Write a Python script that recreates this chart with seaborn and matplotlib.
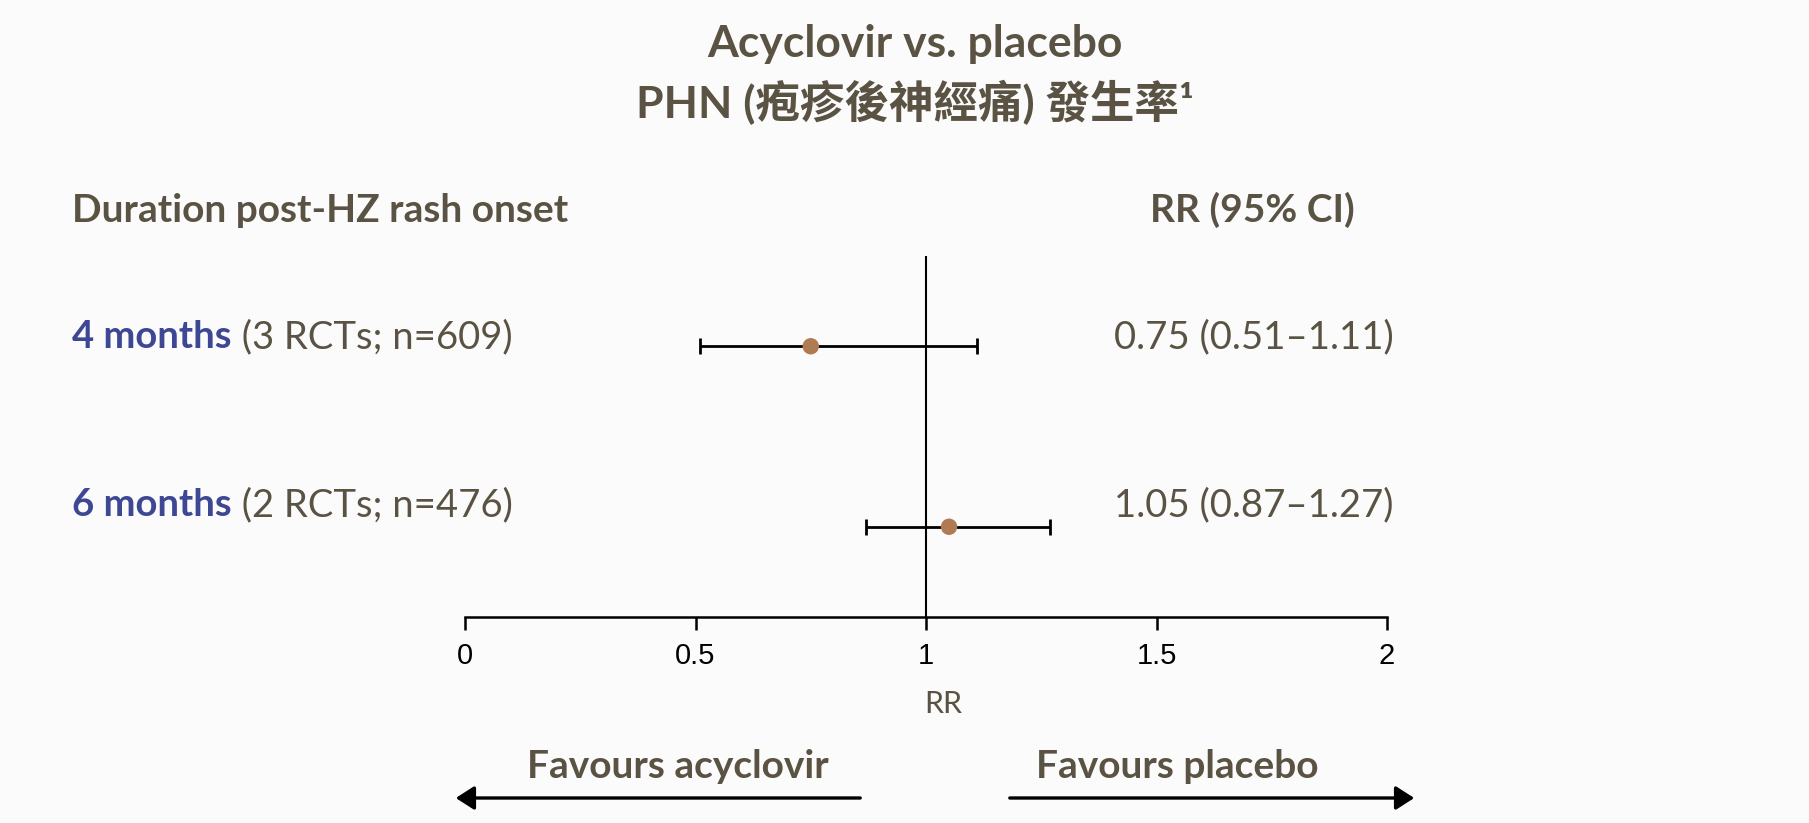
import numpy as np
import pandas as pd
import matplotlib
matplotlib.use("Agg")
import matplotlib.pyplot as plt
import seaborn as sns

# ---- data ----
rows = ["4 months", "6 months"]
details = [" (3 RCTs; n=609)", " (2 RCTs; n=476)"]
rr = [0.75, 1.05]
ci_low = [0.51, 0.87]
ci_high = [1.11, 1.27]
x_ticks = [0, 0.5, 1, 1.5, 2]
x_tick_labels = ["0", "0.5", "1", "1.5", "2"]

df = pd.DataFrame({"row": rows, "rr": rr, "lo": ci_low, "hi": ci_high})

sns.set_theme(style="white")
LATIN = ["Lato", "Noto Sans CJK TC", "DejaVu Sans"]
plt.rcParams["font.family"] = LATIN

TXT = "#5a5344"
BLUE = "#3d4794"
DOT = "#b07a52"

fig = plt.figure(figsize=(18.09, 8.23), dpi=100)
fig.patch.set_facecolor("#fbfbfb")

ax = fig.add_axes([465 / 1809, 1 - 617 / 823, 922 / 1809, 361 / 823])
ax.set_facecolor("none")

# CI whiskers
ax.errorbar(df["rr"], df["row"],
            xerr=[df["rr"] - df["lo"], df["hi"] - df["rr"]],
            fmt="none", ecolor="black", elinewidth=2.0, capsize=6, capthick=2.0, zorder=2)
sns.scatterplot(data=df, x="rr", y="row", color=DOT, s=140, edgecolor="none", ax=ax, zorder=3)
ax.axvline(1, color="black", lw=1.5, zorder=1)

ax.set_xlim(0, 2)
ax.set_ylim(1.5, -0.5)
ax.set_xticks(x_ticks)
ax.set_xticklabels(x_tick_labels, fontsize=21, color="black",
                   family=["Liberation Sans", "DejaVu Sans"])
ax.tick_params(axis="x", direction="out", length=9, width=1.8, color="black", pad=9, bottom=True)
ax.set_yticks([])
ax.set_xlabel("")
ax.set_ylabel("")
for s in ["left", "top", "right"]:
    ax.spines[s].set_visible(False)
ax.spines["bottom"].set_color("black")
ax.spines["bottom"].set_linewidth(1.8)

# titles
fig.text(0.506, 1 - 44 / 823, "Acyclovir vs. placebo", ha="center", va="center",
         fontsize=32, fontweight="bold", color=TXT)
fig.text(0.506, 1 - 102 / 823, "PHN (疱疹後神經痛) 發生率¹", ha="center", va="center",
         fontsize=32, fontweight="bold", color=TXT,
         family=["Lato", "Noto Sans CJK TC", "DejaVu Sans"])

# headers
fig.text(72 / 1809, 1 - 210 / 823, "Duration post-HZ rash onset", ha="left", va="center",
         fontsize=28, fontweight="bold", color=TXT)
fig.text(1252 / 1809, 1 - 210 / 823, "RR (95% CI)", ha="center", va="center",
         fontsize=28, fontweight="bold", color=TXT)

# row labels and RR text
row_text_y = [1 - 337 / 823, 1 - 505 / 823]
for i in range(len(rows)):
    t1 = fig.text(72 / 1809, row_text_y[i], rows[i], ha="left", va="center",
                  fontsize=27.5, fontweight="bold", color=BLUE)
    ax.annotate(details[i], xy=(1, 0.5), xycoords=t1, ha="left", va="center",
                fontsize=27.5, color=TXT, annotation_clip=False)
    fig.text(1394 / 1809, row_text_y[i], f"{rr[i]:.2f} ({ci_low[i]:.2f}\u2013{ci_high[i]:.2f})",
             ha="right", va="center", fontsize=27.5, color=TXT)

# RR axis label
fig.text(943 / 1809, 1 - 704 / 823, "RR", ha="center", va="center", fontsize=22, color=TXT)

# favours labels
fig.text(678 / 1809, 1 - 767 / 823, "Favours acyclovir", ha="center", va="center",
         fontsize=28, fontweight="bold", color=TXT)
fig.text(1177 / 1809, 1 - 767 / 823, "Favours placebo", ha="center", va="center",
         fontsize=28, fontweight="bold", color=TXT)

ay = 1 - 798 / 823
fig.add_artist(matplotlib.patches.FancyArrowPatch((863 / 1809, ay), (453 / 1809, ay),
               transform=fig.transFigure, arrowstyle="-|>,head_length=7,head_width=4.5",
               mutation_scale=1.6, lw=2.4, color="black"))
fig.add_artist(matplotlib.patches.FancyArrowPatch((1007 / 1809, ay), (1417 / 1809, ay),
               transform=fig.transFigure, arrowstyle="-|>,head_length=7,head_width=4.5",
               mutation_scale=1.6, lw=2.4, color="black"))

fig.savefig("out.png", dpi=100, facecolor=fig.get_facecolor())
